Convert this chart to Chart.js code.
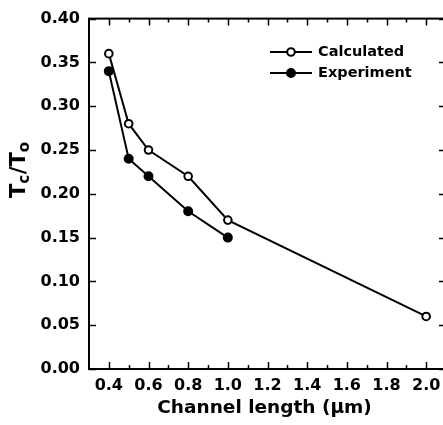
<!DOCTYPE html>
<html><head><meta charset="utf-8">
<script src="https://cdn.jsdelivr.net/npm/chart.js@4/dist/chart.umd.min.js"></script>
<style>
html,body{margin:0;padding:0;background:#fff;overflow:hidden;width:443px;height:425px}
#wrap{width:452px;height:425px;position:relative}
</style></head>
<body><div id="wrap"><canvas id="c" width="452" height="425"></canvas></div>
<script>
// ---- data ----
const calcX = [0.4, 0.5, 0.6, 0.8, 1.0, 2.0];
const calculated = [0.36, 0.28, 0.25, 0.22, 0.17, 0.06];
const expX = [0.4, 0.5, 0.6, 0.8, 1.0];
const experiment = [0.34, 0.24, 0.22, 0.18, 0.15];
const seriesNames = ['Calculated', 'Experiment'];
const xTicks = [0.4, 0.6, 0.8, 1.0, 1.2, 1.4, 1.6, 1.8, 2.0];
const xTickLabels = ['0.4', '0.6', '0.8', '1.0', '1.2', '1.4', '1.6', '1.8', '2.0'];
const xMinorTicks = [0.5, 0.7, 0.9, 1.1, 1.3, 1.5, 1.7, 1.9];
const yTicks = [0.00, 0.05, 0.10, 0.15, 0.20, 0.25, 0.30, 0.35, 0.40];
const yTickLabels = ['0.00', '0.05', '0.10', '0.15', '0.20', '0.25', '0.30', '0.35', '0.40'];
const xTitle = 'Channel length (\u03bcm)';
const yTitleParts = [['T', false], ['c', true], ['/T', false], ['o', true]];

const FONT = '"DejaVu Sans", sans-serif';

const axesPlugin = {
  id: 'axesPlugin',
  beforeDatasetsDraw(chart) {
    const {ctx, chartArea: a, scales: {x, y}} = chart;
    ctx.save();
    ctx.strokeStyle = '#000';
    ctx.lineWidth = 2;
    ctx.strokeRect(a.left, a.top, a.right - a.left, a.bottom - a.top);
    ctx.lineWidth = 1.5;
    ctx.beginPath();
    xTicks.forEach(v => {
      const px = Math.round(x.getPixelForValue(v)) + 0.5;
      ctx.moveTo(px, a.bottom); ctx.lineTo(px, a.bottom - 7);
      ctx.moveTo(px, a.top); ctx.lineTo(px, a.top + 7);
    });
    xMinorTicks.forEach(v => {
      const px = Math.round(x.getPixelForValue(v)) + 0.5;
      ctx.moveTo(px, a.bottom); ctx.lineTo(px, a.bottom - 4);
      ctx.moveTo(px, a.top); ctx.lineTo(px, a.top + 4);
    });
    yTicks.forEach(v => {
      const py = Math.round(y.getPixelForValue(v)) + 0.5;
      ctx.moveTo(a.left, py); ctx.lineTo(a.left + 7, py);
      ctx.moveTo(a.right, py); ctx.lineTo(a.right - 7, py);
    });
    ctx.stroke();
    ctx.restore();
  },
  afterDraw(chart) {
    const {ctx, chartArea: a} = chart;
    ctx.save();
    ctx.fillStyle = '#000';
    // x title
    ctx.font = 'bold 18.5px ' + FONT;
    ctx.textAlign = 'center';
    ctx.textBaseline = 'alphabetic';
    ctx.fillText(xTitle, 264.5, 413);
    // y title
    ctx.translate(25, 198);
    ctx.rotate(-Math.PI / 2);
    ctx.textAlign = 'left';
    let cx = 0;
    yTitleParts.forEach(([t, sub]) => {
      ctx.font = (sub ? 'bold 15px ' : 'bold 21px ') + FONT;
      ctx.fillText(t, cx, sub ? 4 : 0);
      cx += ctx.measureText(t).width + (sub ? 0.5 : 0);
    });
    ctx.restore();

    // legend
    ctx.save();
    const rows = [52, 73];
    chart.data.datasets.forEach((ds, i) => {
      const yy = rows[i];
      ctx.strokeStyle = '#000';
      ctx.lineWidth = 2;
      ctx.beginPath();
      ctx.moveTo(270, yy); ctx.lineTo(312, yy);
      ctx.stroke();
      ctx.beginPath();
      ctx.arc(291, yy, ds.pointRadius, 0, Math.PI * 2);
      ctx.fillStyle = ds.pointBackgroundColor;
      ctx.fill();
      ctx.lineWidth = ds.pointBorderWidth;
      ctx.stroke();
      ctx.fillStyle = '#000';
      ctx.font = 'bold 14.5px ' + FONT;
      ctx.textAlign = 'left';
      ctx.textBaseline = 'middle';
      ctx.fillText(ds.label, 318, yy);
    });
    ctx.restore();
  }
};

new Chart(document.getElementById('c'), {
  type: 'scatter',
  data: {
    datasets: [
      {
        label: seriesNames[0],
        data: calcX.map((v, i) => ({x: v, y: calculated[i]})),
        showLine: true,
        borderColor: '#000',
        borderWidth: 2,
        pointRadius: 3.8,
        pointBorderWidth: 2,
        pointBackgroundColor: '#fff',
        pointBorderColor: '#000',
        order: 1
      },
      {
        label: seriesNames[1],
        data: expX.map((v, i) => ({x: v, y: experiment[i]})),
        showLine: true,
        borderColor: '#000',
        borderWidth: 2,
        pointRadius: 4,
        pointBorderWidth: 2,
        pointBackgroundColor: '#000',
        pointBorderColor: '#000',
        order: 2
      }
    ]
  },
  options: {
    responsive: false,
    animation: false,
    events: [],
    layout: {padding: {top: 15, right: 6, left: 0, bottom: 0}},
    plugins: {legend: {display: false}, tooltip: {enabled: false}, title: {display: false}},
    scales: {
      x: {
        type: 'linear', min: 0.3, max: 2.1,
        grid: {display: false, drawTicks: false},
        border: {display: false},
        afterBuildTicks: s => { s.ticks = xTicks.map(v => ({value: v})); },
        afterFit: s => { s.height = 56; },
        ticks: {
          padding: 7,
          color: '#000',
          font: {family: FONT, size: 16, weight: 'bold'},
          maxRotation: 0,
          autoSkip: false,
          callback: (v) => { const i = xTicks.findIndex(t => Math.abs(t - v) < 1e-9); return i >= 0 ? xTickLabels[i] : ''; }
        }
      },
      y: {
        type: 'linear', min: 0, max: 0.4,
        grid: {display: false, drawTicks: false},
        border: {display: false},
        afterBuildTicks: s => { s.ticks = yTicks.map(v => ({value: v})); },
        afterFit: s => { s.width = 89; },
        ticks: {
          padding: 9,
          color: '#000',
          font: {family: FONT, size: 16, weight: 'bold'},
          autoSkip: false,
          callback: (v) => { const i = yTicks.findIndex(t => Math.abs(t - v) < 1e-9); return i >= 0 ? yTickLabels[i] : ''; }
        }
      }
    }
  },
  plugins: [axesPlugin]
});
</script>
</body></html>
